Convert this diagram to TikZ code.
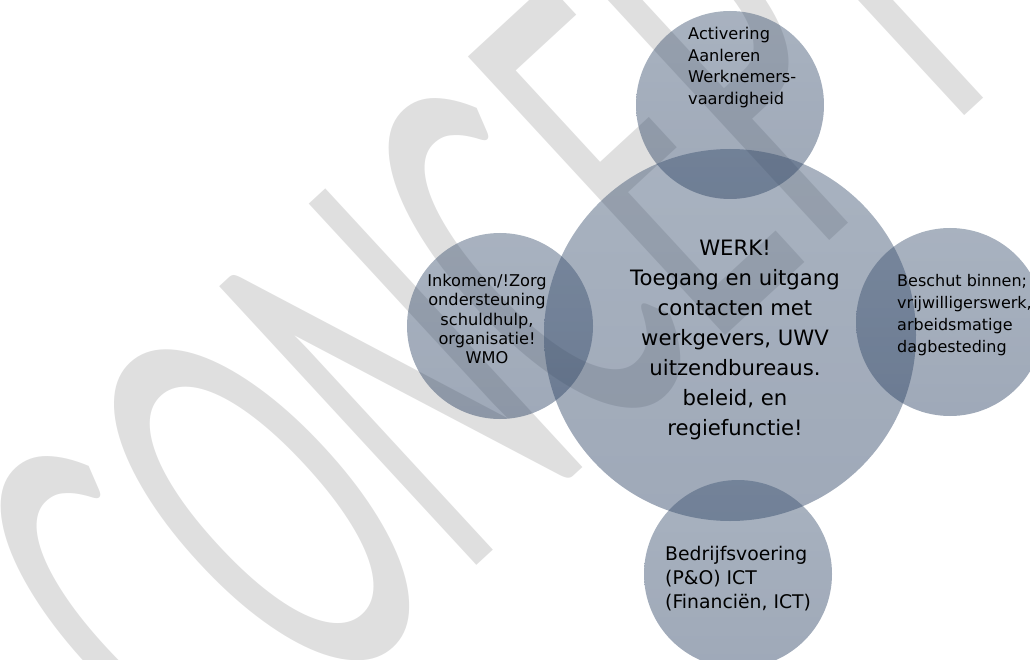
\documentclass[tikz,border=0pt]{standalone}
\usepackage{fontspec}
\setmainfont{DejaVu Sans}
\newfontfamily\wmfont{Carlito}
\usetikzlibrary{positioning}
\definecolor{bubbletop}{RGB}{62,84,114}
\definecolor{bubblebot}{RGB}{42,64,98}
\definecolor{wmgray}{RGB}{223,223,223}
\tikzset{
  bubble/.style={circle, top color=bubbletop, bottom color=bubblebot, fill opacity=0.45, inner sep=0pt, minimum size=#1},
  bubbletext/.style={inner sep=0pt, text=black},
}
\begin{document}
\begin{tikzpicture}[x=1pt, y=-1pt]
  \useasboundingbox (0,0) rectangle (1030,660);

  % watermark
  \begin{scope}[cm={0.706,0.651,-1.336,1.448,(489,296)}]
    \node[transform shape, inner sep=0pt, text=wmgray, font=\wmfont\fontsize{300}{300}\selectfont] (concept) at (0,0) {CONCEPT};
  \end{scope}

  % circles
  \node[bubble=372pt] (werk) at (730,335) {};
  \node[bubble=188pt] (act) at (730,105) {};
  \node[bubble=186pt] (inko) at (500,326) {};
  \node[bubble=188pt] (besch) at (950,322) {};
  \node[bubble=188pt] (bedr) at (738,574) {};

  % texts
  \node[bubbletext, align=center, font=\fontsize{21.2}{30}\selectfont] (werktxt) at (735,340)
    {WERK!\\Toegang en uitgang\\contacten met\\werkgevers, UWV\\uitzendbureaus.\\beleid, en\\regiefunctie!};
  \node[bubbletext, align=left, anchor=west, font=\fontsize{16.2}{21.7}\selectfont] (acttxt) at (688,67.6)
    {Activering\\Aanleren\\Werknemers-\\vaardigheid};
  \node[bubbletext, align=center, font=\fontsize{16.2}{19.3}\selectfont] (inkotxt) at (487,319)
    {Inkomen/!Zorg\\ondersteuning\\schuldhulp,\\organisatie!\\WMO};
  \node[bubbletext, align=left, anchor=west, font=\fontsize{16}{22}\selectfont] (beschtxt) at (897,315)
    {Beschut binnen;\\vrijwilligerswerk,\\arbeidsmatige\\dagbesteding};
  \node[bubbletext, align=left, anchor=west, font=\fontsize{18.8}{24}\selectfont] (bedrtxt) at (665,579)
    {Bedrijfsvoering\\(P\&O) ICT\\(Financiën, ICT)};
\end{tikzpicture}
\end{document}
